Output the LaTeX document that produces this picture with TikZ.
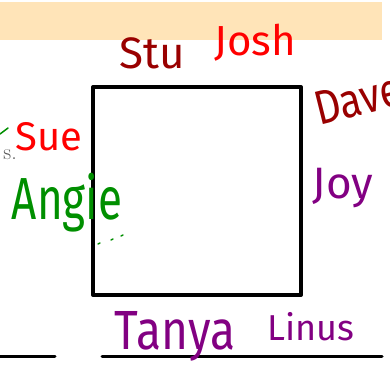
\documentclass[tikz,border=0pt]{standalone}
\usepackage{fontspec}
\newfontfamily\handfont{Fira Sans}
\usepackage{tikz}

\definecolor{bandpeach}{HTML}{FFE4B8}
\definecolor{inkdark}{HTML}{990000}
\definecolor{inkred}{HTML}{FF0000}
\definecolor{inkpurple}{HTML}{820082}
\definecolor{inkgreen}{HTML}{008F00}

\tikzset{
	hand/.style={inner sep=0pt, font=\handfont\fontsize{#1}{#1}\selectfont},
	hand/.default=40,
}

\begin{document}
\begin{tikzpicture}[x=1pt, y=-1pt, line join=round, line cap=round]
	\useasboundingbox (0, 0) rectangle (390, 383);

	% Dải màu phía trên
	\fill[bandpeach] (0, 2) rectangle (382, 40);

	% Hình vuông
	\draw[line width=4pt, line cap=butt] (93, 87) rectangle (301, 295);

	% Các đường kẻ phía dưới
	\draw[line width=3pt] (0, 356) -- (55, 356);
	\draw[line width=3pt] (102, 356) -- (382, 356);

	% Tên phía trên
	\node[hand=44, text=inkdark] (stu) at (152, 53) {Stu};
	\node[hand=42, text=inkred] (josh) at (255, 43) {Josh};

	% Tên bên phải
	\node[hand=40, text=inkdark, rotate=14, yscale=1.2, anchor=west] (dave) at (315, 110) {Dave};
	\node[hand=44, text=inkpurple] (joy) at (343, 188) {Joy};

	% Tên bên trái
	\node[font=\fontsize{22}{22}\selectfont, text=black!65, anchor=base east, inner sep=0pt] (dots) at (17, 159) {s.};
	\node[hand=40, text=inkred] (sue) at (49, 137) {Sue};
	\node[hand=44, text=inkgreen, yscale=1.35] (angie) at (67, 203) {Angie};
	\draw[inkgreen, line width=1.5pt] (0, 134) -- (8, 128);
	\foreach \p in {(98, 244), (111, 240), (121, 236)} {
		\draw[inkgreen, line width=1.5pt] \p -- ++(2, -1);
	}

	% Tên phía dưới
	\node[hand=46, text=inkpurple, yscale=1.2] (tanya) at (175, 336) {Tanya};
	\node[hand=36, text=inkpurple] (linus) at (311, 327) {Linus};
\end{tikzpicture}
\end{document}
